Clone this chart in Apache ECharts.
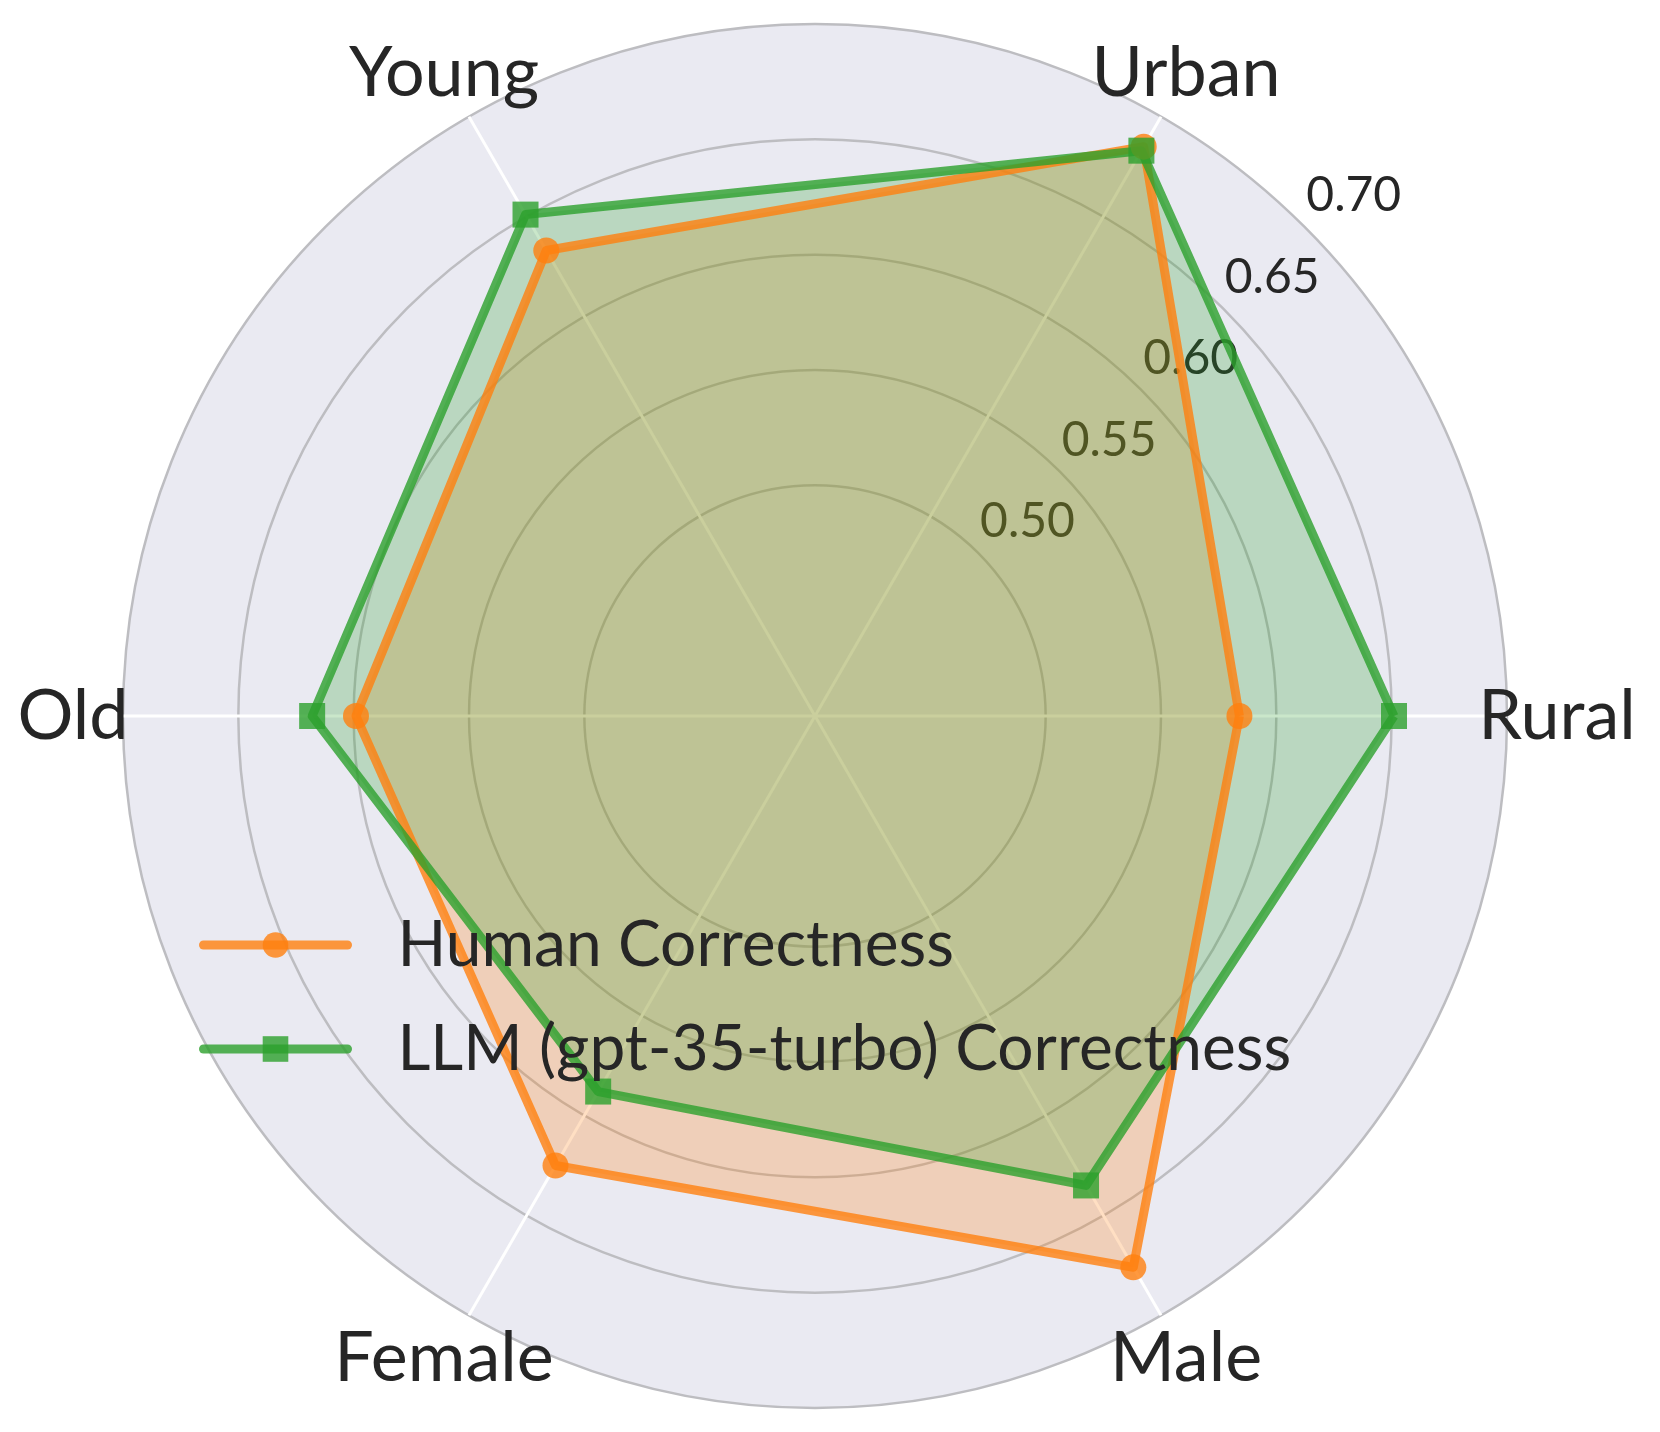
<!DOCTYPE html>
<html><head><meta charset="utf-8">
<script src="https://cdn.jsdelivr.net/npm/echarts@6/dist/echarts.min.js"></script>
<style>html,body{margin:0;padding:0;background:#fff}#c{width:1660px;height:1432px}</style>
</head><body><div id="c"></div>
<script>
const categories = ['Rural', 'Urban', 'Young', 'Old', 'Female', 'Male'];
const humanCorrectness = [0.584, 0.685, 0.633, 0.599, 0.625, 0.676];
const llmCorrectness = [0.651, 0.683, 0.651, 0.618, 0.588, 0.635];
const radialTicks = [0.50, 0.55, 0.60, 0.65, 0.70];
const seriesNames = ['Human Correctness', 'LLM (gpt-35-turbo) Correctness'];
const radialMin = 0.40, radialMax = 0.70, radialStep = 0.05;

const CX = 815, CY = 716, R = 692, LABEL_R = 742;
const FONT = 'Lato';
const TEXT = '#262626';
const ORANGE = '#ff7f0e', GREEN = '#2ca02c';
const step = 360 / categories.length;

function closedRing(vals) {
  const pts = vals.map((v, i) => [v, i * step]);
  pts.push({ value: [vals[0], 360], symbol: 'none' });
  return pts;
}
const tickVals = [];
for (let k = 0; radialMin + k * radialStep <= radialMax + 1e-9; k++) tickVals.push(radialMin + k * radialStep);
const isTick = v => radialTicks.some(t => Math.abs(t - v) < 1e-6);
const ringColors = tickVals.map(v => isTick(v) ? '#bdbdc1' : 'rgba(0,0,0,0)');

const hidden = { axisLine: { show: false }, axisTick: { show: false }, axisLabel: { show: false }, splitLine: { show: false } };

function areaSeries(vals, color) {
  return { type: 'line', coordinateSystem: 'polar', polarIndex: 0, z: 2, silent: true,
    data: closedRing(vals), symbol: 'none',
    lineStyle: { width: 0, opacity: 0 },
    areaStyle: { color: color, opacity: 0.25 } };
}
function lineSeries(name, vals, color, symbol) {
  return { name: name, type: 'line', coordinateSystem: 'polar', polarIndex: 0, z: 3, silent: true,
    data: closedRing(vals), symbol: symbol, symbolSize: 26,
    lineStyle: { color: color, width: 9, opacity: 0.8, join: 'round' },
    itemStyle: { color: color, opacity: 0.8 } };
}

const chart = echarts.init(document.getElementById('c'), null, { renderer: 'canvas' });
chart.setOption({
  animation: false,
  backgroundColor: '#ffffff',
  polar: [
    { center: [CX, CY], radius: R },
    { center: [CX, CY], radius: R },
    { center: [CX, CY], radius: LABEL_R }
  ],
  angleAxis: [
    { polarIndex: 0, type: 'value', min: 0, max: 360, interval: step, startAngle: 0, clockwise: false, z: 1,
      axisLine: { show: false }, axisTick: { show: false }, axisLabel: { show: false },
      splitLine: { show: true, lineStyle: { color: '#ffffff', width: 3 } } },
    Object.assign({ polarIndex: 1, type: 'value', min: 0, max: 360, startAngle: 45, clockwise: false }, hidden),
    Object.assign({ polarIndex: 2, type: 'category', data: categories, boundaryGap: false, startAngle: 0, clockwise: false }, hidden)
  ],
  radiusAxis: [
    { polarIndex: 0, type: 'value', min: radialMin, max: radialMax, interval: radialStep, z: 0,
      axisLine: { show: false }, axisTick: { show: false }, axisLabel: { show: false },
      splitLine: { show: false },
      splitArea: { show: true, areaStyle: { color: ['#EAEAF2'] } } },
    { polarIndex: 1, type: 'value', min: radialMin, max: radialMax, interval: radialStep, z: 1,
      axisLine: { show: false }, axisTick: { show: false },
      splitLine: { show: true, lineStyle: { color: ringColors, width: 2.5 } },
      axisLabel: { show: true, margin: 0, align: 'left', verticalAlign: 'bottom',
        formatter: v => isTick(v) ? v.toFixed(2) : '',
        fontFamily: FONT, fontSize: 48, color: TEXT, lineHeight: 48, padding: [0, 0, 7, 2] } },
    Object.assign({ polarIndex: 2, type: 'value', min: 0, max: 1 }, hidden)
  ],
  legend: {
    orient: 'vertical', left: 194, top: 908, itemWidth: 144, itemHeight: 32, itemGap: 40,
    selectedMode: false, data: seriesNames,
    textStyle: { fontFamily: FONT, fontSize: 64, color: TEXT, lineHeight: 64, padding: [0, 0, 0, 45] },
    lineStyle: { width: 9, cap: 'round', opacity: 0.8 },
    itemStyle: { opacity: 0.8 }
  },
  series: [
    areaSeries(humanCorrectness, ORANGE),
    areaSeries(llmCorrectness, GREEN),
    lineSeries(seriesNames[0], humanCorrectness, ORANGE, 'circle'),
    lineSeries(seriesNames[1], llmCorrectness, GREEN, 'rect'),
    { type: 'scatter', coordinateSystem: 'polar', polarIndex: 2, z: 5, silent: true,
      data: categories.map(c => ({ name: c, value: [1, c] })),
      symbol: 'circle', symbolSize: 1, itemStyle: { color: 'rgba(0,0,0,0)', opacity: 1 },
      label: { show: true, position: 'inside', formatter: p => p.name, opacity: 1,
        fontFamily: FONT, fontSize: 70, color: TEXT, textBorderWidth: 0 } }
  ]
});
</script>
</body></html>
